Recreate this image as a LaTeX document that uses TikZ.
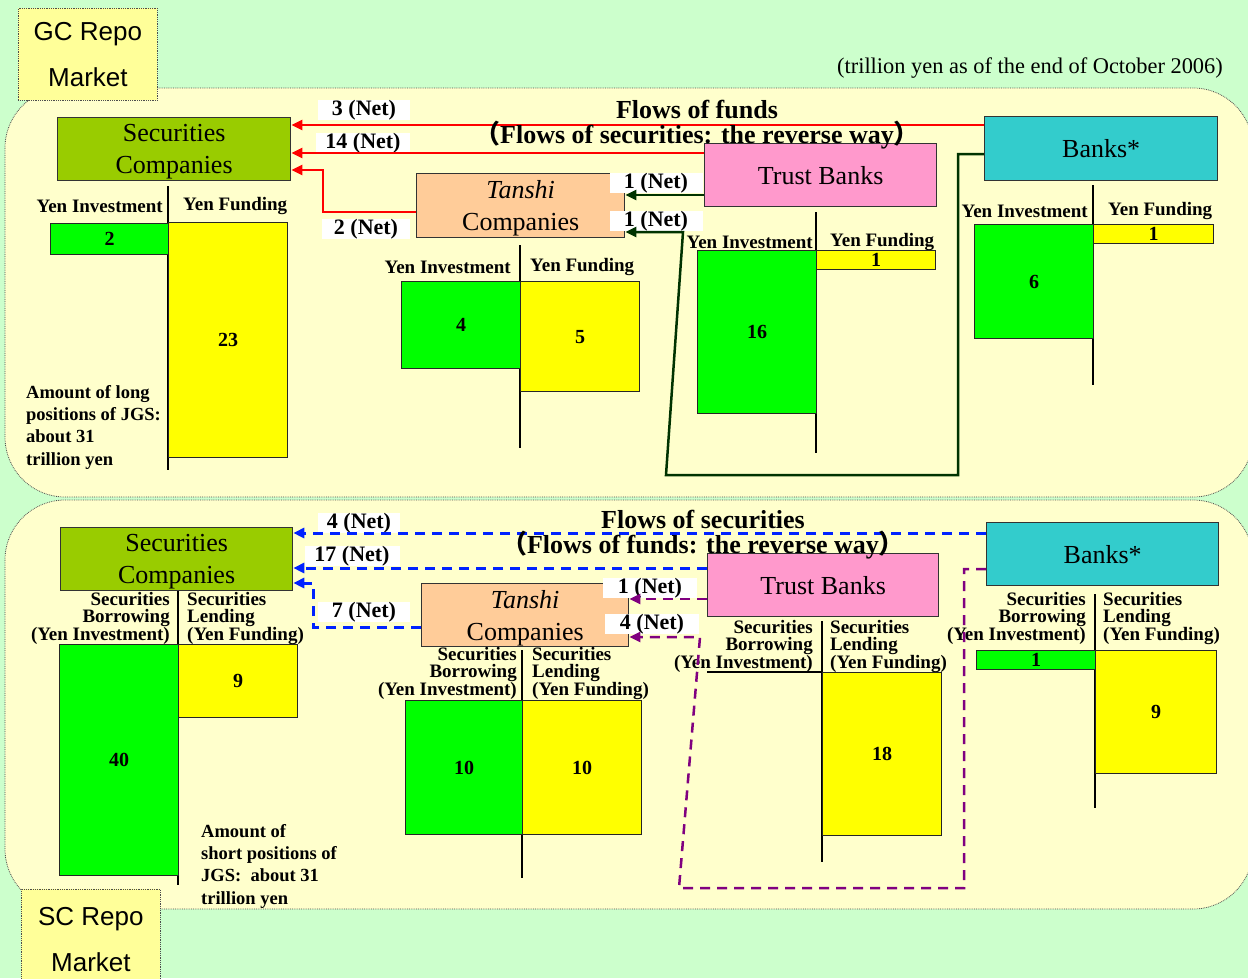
\documentclass[tikz,border=0pt]{standalone}
\usepackage{fontspec}
\setmainfont{Liberation Serif}
\newfontfamily\arialf{Liberation Sans}
\newfontfamily\cjk{Noto Sans CJK JP}
\usetikzlibrary{arrows.meta}
\definecolor{bgG}{HTML}{CCFFCC}
\definecolor{panelY}{HTML}{FFFFCC}
\definecolor{mktY}{HTML}{FFFF99}
\definecolor{secC}{HTML}{99CC00}
\definecolor{tanC}{HTML}{FFCC99}
\definecolor{trC}{HTML}{FF99CC}
\definecolor{bkC}{HTML}{33CCCC}
\definecolor{barG}{HTML}{00FF00}
\definecolor{barY}{HTML}{FFFF00}
\definecolor{dkG}{HTML}{003300}
\definecolor{blueA}{HTML}{0022FF}
\definecolor{purA}{HTML}{800080}
\tikzset{
  panel/.style={fill=panelY, draw=black!70, densely dotted, line width=0.8pt, rounded corners=60pt},
  mkt/.style={fill=mktY, draw=black!70, densely dotted, line width=0.8pt, align=center, inner sep=0pt,
    font=\arialf\fontsize{26}{46}\selectfont},
  ent/.style={draw=black!80, line width=1.3pt, inner sep=0pt, align=center, anchor=north west,
    font=\fontsize{26}{32}\selectfont},
  ent2/.style={ent, text depth=0pt},
  gbar/.style={fill=barG, draw=black!85, line width=1.3pt, inner sep=0pt, anchor=north west,
    font=\bfseries\fontsize{20}{20}\selectfont},
  ybar/.style={fill=barY, draw=black!85, line width=1.3pt, inner sep=0pt, anchor=north west,
    font=\bfseries\fontsize{20}{20}\selectfont},
  axisln/.style={draw=black, line width=1.2pt},
  hdr/.style={font=\bfseries\fontsize{19}{17}\selectfont, inner sep=0pt},
  net/.style={fill=white, inner sep=0pt, minimum height=20pt, font=\bfseries\fontsize{22}{22}\selectfont},
  note/.style={font=\bfseries\fontsize{18.5}{22.3}\selectfont, align=left, inner sep=0pt, anchor=north west},
  ttl/.style={font=\bfseries\fontsize{26}{25}\selectfont, align=center, inner sep=0pt},
  redarr/.style={draw=red, line width=2.5pt, -{Triangle[length=11pt,width=10pt]}},
  dgarr/.style={draw=dkG, line width=2.5pt, -{Triangle[length=11pt,width=10pt]}},
  bluearr/.style={draw=blueA, line width=3pt, dash pattern=on 10pt off 7pt, -{Triangle[length=11pt,width=10pt]}},
  purarr/.style={draw=purA, line width=2.5pt, dash pattern=on 10pt off 7pt, -{Triangle[length=11pt,width=10pt]}},
}
\begin{document}
\begin{tikzpicture}[x=1pt,y=-1pt]
\useasboundingbox (0,0) rectangle (1248,978);
\fill[bgG] (0,0) rectangle (1248,978);
% panels
\draw[panel] (5,88) rectangle (1253,497);
\draw[panel] (5,500) rectangle (1253,909);
% market boxes
\node[mkt, minimum width=139pt, minimum height=92pt, anchor=north west] (gc) at (18,8) {GC Repo\\Market};
\node[mkt, minimum width=139pt, minimum height=100pt, anchor=north west] (sc) at (21,889) {SC Repo\\Market};
% unit note
\node[font=\fontsize{22.4}{22}\selectfont, anchor=east, inner sep=0pt] (unit) at (1223,68) {(trillion yen as of the end of October 2006)};

% ================= TOP SECTION =================
% axes
\draw[axisln] (168,186) -- (168,470);
\draw[axisln] (520,245) -- (520,448);
\draw[axisln] (816,212) -- (816,453);
\draw[axisln] (1093,185) -- (1093,385);
% entity boxes
\node[ent2, fill=secC, minimum width=233pt, minimum height=63pt] (secT) at (57,117) {Securities\\Companies};
\node[ent2, fill=tanC, minimum width=208pt, minimum height=64pt] (tanT) at (416,173) {\textit{Tanshi}\\Companies};
\node[ent, fill=trC, minimum width=232pt, minimum height=63pt] (trT) at (704,143) {Trust Banks};
\node[ent, fill=bkC, minimum width=233pt, minimum height=64pt] (bkT) at (984,116) {Banks*};
% headers
\node[hdr, anchor=east] (h1) at (163,206) {Yen Investment};
\node[hdr, anchor=west] (h2) at (183,206) {Yen Funding};
\node[hdr, anchor=east] (h3) at (511,267) {Yen Investment};
\node[hdr, anchor=west] (h4) at (530,267) {Yen Funding};
\node[hdr, anchor=east] (h5) at (813,242) {Yen Investment};
\node[hdr, anchor=west] (h6) at (830,242) {Yen Funding};
\node[hdr, anchor=east] (h7) at (1088,211) {Yen Investment};
\node[hdr, anchor=west] (h8) at (1108,211) {Yen Funding};
% bars
\node[gbar, minimum width=118pt, minimum height=31pt] (b1) at (50,223) {2};
\node[ybar, minimum width=119pt, minimum height=235pt] (b2) at (168,222) {23};
\node[gbar, minimum width=119pt, minimum height=87pt] (b3) at (401,281) {4};
\node[ybar, minimum width=119pt, minimum height=110pt] (b4) at (520,281) {5};
\node[gbar, minimum width=119pt, minimum height=163pt] (b5) at (697,250) {16};
\node[ybar, minimum width=119pt, minimum height=19pt] (b6) at (816,250) {1};
\node[gbar, minimum width=119pt, minimum height=114pt] (b7) at (974,224) {6};
\node[ybar, minimum width=120pt, minimum height=19pt] (b8) at (1093,224) {1};
% note
\node[note] (amt1) at (26,385) {Amount of long\\positions of JGS:\\about 31\\trillion yen};
% net labels
\node[net, minimum width=92pt] (n3) at (364,110) {3 (Net)};
\node[net, minimum width=94pt] (n14) at (363,143) {14 (Net)};
\node[net, minimum width=88pt] (n2) at (366,229) {2 (Net)};
\node[net, minimum width=93pt] (n1a) at (656,183) {1 (Net)};
\node[net, minimum width=93pt] (n1b) at (656,221) {1 (Net)};
% connectors
\draw[redarr] (bkT.west |- 0,125) -- (secT.east |- 0,125);
\draw[redarr] (trT.west |- 0,153) -- (secT.east |- 0,153);
\draw[redarr] (tanT.west |- 0,212) -- (323,212) -- (323,170) -- (secT.east |- 0,170);
\draw[dgarr] (trT.west |- 0,195) -- (tanT.east |- 0,195);
\draw[dgarr] (bkT.west |- 0,154) -- (958,154) -- (958,475) -- (666,475) -- (683,232) -- (tanT.east |- 0,232);
% title
\node[ttl] (ttlT) at (697,125) {Flows of funds\\{\cjk （}Flows of securities: the reverse way{\cjk ）}};

% ================= BOTTOM SECTION =================
\draw[axisln] (178,590) -- (178,885);
\draw[axisln] (522,650) -- (522,878);
\draw[axisln] (822,621) -- (822,862);
\draw[axisln] (1095,594) -- (1095,808);
\draw[axisln] (707,672) -- (822,672);
\node[ent2, fill=secC, minimum width=232pt, minimum height=63pt] (secB) at (60,527) {Securities\\Companies};
\node[ent2, fill=tanC, minimum width=207pt, minimum height=63pt] (tanB) at (421,583) {\textit{Tanshi}\\Companies};
\node[ent, fill=trC, minimum width=231pt, minimum height=63pt] (trB) at (707,553) {Trust Banks};
\node[ent, fill=bkC, minimum width=232pt, minimum height=63pt] (bkB) at (986,522) {Banks*};
% headers
\node[hdr, anchor=north east, align=right] (k1) at (170,592) {Securities\\Borrowing\\(Yen Investment)};
\node[hdr, anchor=north west, align=left] (k2) at (187,592) {Securities\\Lending\\(Yen Funding)};
\node[hdr, anchor=north east, align=right] (k3) at (517,647) {Securities\\Borrowing\\(Yen Investment)};
\node[hdr, anchor=north west, align=left] (k4) at (532,647) {Securities\\Lending\\(Yen Funding)};
\node[hdr, anchor=north east, align=right] (k5) at (813,620) {Securities\\Borrowing\\(Yen Investment)};
\node[hdr, anchor=north west, align=left] (k6) at (830,620) {Securities\\Lending\\(Yen Funding)};
\node[hdr, anchor=north east, align=right] (k7) at (1086,592) {Securities\\Borrowing\\(Yen Investment)};
\node[hdr, anchor=north west, align=left] (k8) at (1103,592) {Securities\\Lending\\(Yen Funding)};
% bars
\node[gbar, minimum width=119pt, minimum height=231pt] (c1) at (59,644) {40};
\node[ybar, minimum width=119pt, minimum height=73pt] (c2) at (178,644) {9};
\node[gbar, minimum width=117pt, minimum height=134pt] (c3) at (405,700) {10};
\node[ybar, minimum width=119pt, minimum height=134pt] (c4) at (522,700) {10};
\node[ybar, minimum width=119pt, minimum height=163pt] (c5) at (822,672) {18};
\node[gbar, minimum width=119pt, minimum height=19pt] (c6) at (976,650) {1};
\node[ybar, minimum width=121pt, minimum height=123pt] (c7) at (1095,650) {9};
% note
\node[note] (amt2) at (201,824) {Amount of\\short positions of\\JGS:~~about 31\\trillion yen};
% net labels
\node[net, minimum width=82pt] (m4) at (359,523) {4 (Net)};
\node[net, minimum width=95pt] (m17) at (352,556) {17 (Net)};
\node[net, minimum width=92pt] (m7) at (364,612) {7 (Net)};
\node[net, minimum width=94pt] (mp1) at (650,588) {1 (Net)};
\node[net, minimum width=94pt] (mp4) at (652,624) {4 (Net)};
% connectors
\draw[bluearr] (bkB.west |- 0,533) -- (secB.east |- 0,533);
\draw[bluearr] (trB.west |- 0,568) -- (secB.east |- 0,568);
\draw[bluearr] (tanB.west |- 0,627) -- (313,627) -- (313,583) -- (secB.east |- 0,583);
\draw[purarr] (trB.west |- 0,599) -- (tanB.east |- 0,599);
\draw[purarr] (bkB.west |- 0,569) -- (964,569) -- (964,888) -- (679,888) -- (700,637) -- (tanB.east |- 0,637);
% title
\node[ttl] (ttlB) at (703,535) {Flows of securities\\{\cjk （}Flows of funds: the reverse way{\cjk ）}};
\end{tikzpicture}
\end{document}
